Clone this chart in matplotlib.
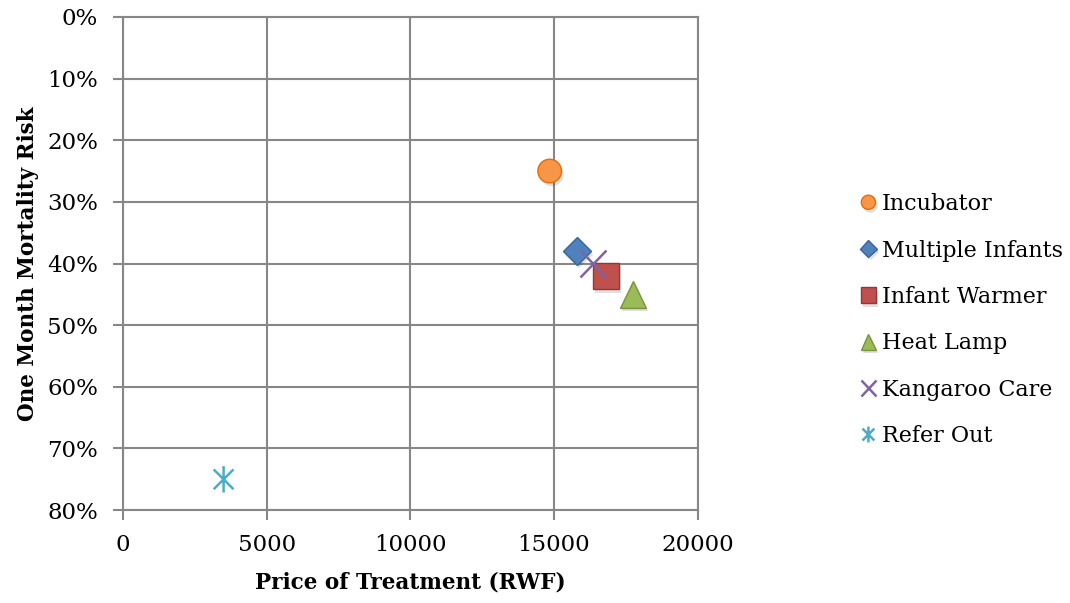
import matplotlib
matplotlib.use("Agg")
import matplotlib.pyplot as plt
import matplotlib.patheffects as pe
from matplotlib.path import Path
from matplotlib.ticker import FuncFormatter

# Treatment options: price (RWF) vs one-month mortality risk (%)
treatments = ["Incubator", "Multiple Infants", "Infant Warmer", "Heat Lamp",
              "Kangaroo Care", "Refer Out"]
price_rwf = [14850, 15800, 16800, 17750, 16350, 3500]
mortality_pct = [25, 38, 42, 45, 40, 75]

colors = ["#F79646", "#4F81BD", "#C0504D", "#9BBB59", "#8064A2", "#4BACC6"]
edge_colors = ["#E36C09", "#3A6396", "#953735", "#77933C", "#8064A2", "#4BACC6"]

x_ticks = [0, 5000, 10000, 15000, 20000]
y_ticks = [0, 10, 20, 30, 40, 50, 60, 70, 80]

# asterisk: vertical stroke plus two diagonals
star_path = Path(
    [(0, -1), (0, 1), (-0.75, -0.75), (0.75, 0.75), (-0.75, 0.75), (0.75, -0.75)],
    [Path.MOVETO, Path.LINETO, Path.MOVETO, Path.LINETO, Path.MOVETO, Path.LINETO],
)
markers = ["o", "D", "s", "^", "x", star_path]
sizes = [17, 14, 19, 19, 19, 19]

plt.rcParams["font.family"] = ["DejaVu Serif"]

fig = plt.figure(figsize=(10.70, 6.03), dpi=100)
ax = fig.add_axes([0.115, 0.154, 0.537, 0.818])

shadow = [pe.SimplePatchShadow(offset=(1.5, -2.5), shadow_rgbFace="#000000", alpha=0.12), pe.Normal()]

for name, x, y, c, ec, m, s in zip(treatments, price_rwf, mortality_pct,
                                   colors, edge_colors, markers, sizes):
    if isinstance(m, Path) or m == "x":
        line, = ax.plot([x], [y], linestyle="none", marker=m, markersize=s,
                        color=c, markeredgecolor=c, markeredgewidth=1.8,
                        label=name, zorder=3)
    else:
        line, = ax.plot([x], [y], linestyle="none", marker=m, markersize=s,
                        markerfacecolor=c, markeredgecolor=ec, markeredgewidth=1.0,
                        label=name, zorder=3)
    line.set_path_effects(shadow)

ax.set_xlim(0, 20000)
ax.set_ylim(80, 0)
ax.set_xticks(x_ticks)
ax.set_yticks(y_ticks)
ax.yaxis.set_major_formatter(FuncFormatter(lambda v, p: f"{int(round(v))}%"))

ax.grid(True, color="#878787", linewidth=1.5)
ax.set_axisbelow(True)
for sp in ax.spines.values():
    sp.set_color("#878787")
    sp.set_linewidth(1.5)

ax.tick_params(axis="both", direction="out", length=7, width=1.5, color="#878787",
               labelsize=16.5)
ax.tick_params(axis="y", pad=11)
ax.tick_params(axis="x", pad=10)

ax.set_xlabel("Price of Treatment (RWF)", fontsize=15.5, fontweight="bold", labelpad=11)
ax.set_ylabel("One Month Mortality Risk", fontsize=15.5, fontweight="bold", labelpad=6)

leg = fig.legend(loc="center left", bbox_to_anchor=(0.795, 0.469), frameon=False,
                 fontsize=16, markerscale=0.6, handlelength=0.6, handletextpad=0.3,
                 labelspacing=1.1, borderpad=0)

fig.savefig("out.png", dpi=100)
